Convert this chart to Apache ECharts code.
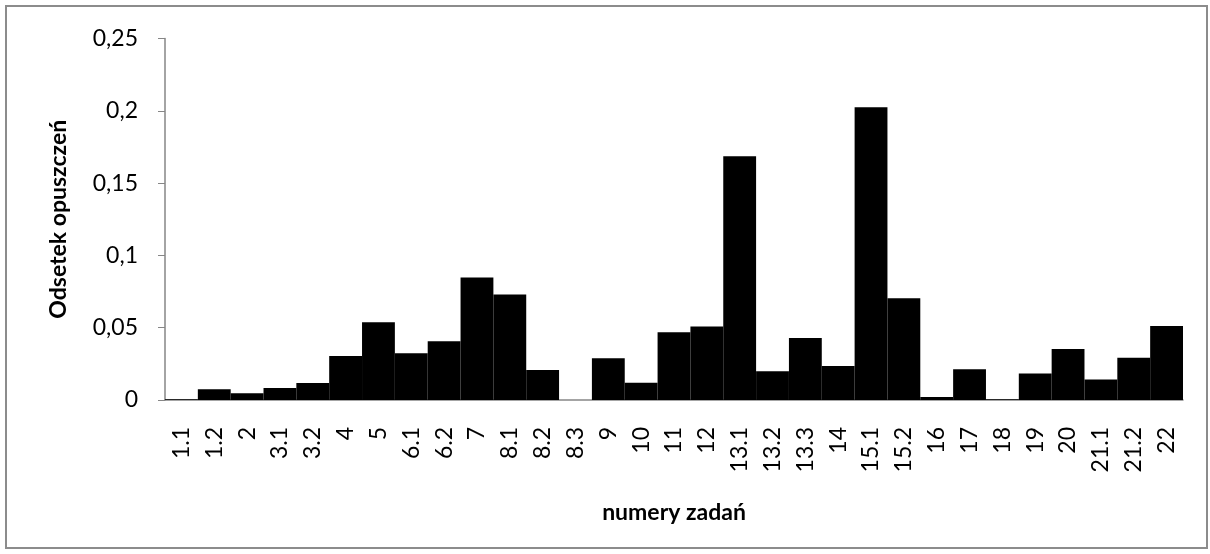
<!DOCTYPE html>
<html><head><meta charset="utf-8">
<script src="https://cdn.jsdelivr.net/npm/echarts@6/dist/echarts.min.js"></script>
<style>html,body{margin:0;padding:0;background:#fff}#c{width:1210px;height:554px}</style>
</head><body><div id="c"></div>
<script>
const categories = ['1.1','1.2','2','3.1','3.2','4','5','6.1','6.2','7','8.1','8.2','8.3','9','10','11','12','13.1','13.2','13.3','14','15.1','15.2','16','17','18','19','20','21.1','21.2','22'];
const values = [0.0005,0.0074,0.0046,0.0083,0.0118,0.0304,0.0537,0.0323,0.0406,0.0848,0.073,0.0207,0,0.0288,0.012,0.0468,0.0509,0.1685,0.0198,0.0429,0.0235,0.2024,0.0703,0.002,0.0212,0.0005,0.0184,0.0353,0.0141,0.0293,0.0512];
const yTitle = 'Odsetek opuszczeń';
const xTitle = 'numery zadań';
const FONT = 'Lato, "Open Sans", sans-serif';
const chart = echarts.init(document.getElementById('c'), null, {renderer:'canvas'});
chart.setOption({
  animation:false,
  backgroundColor:'#fff',
  graphic:[{type:'rect',shape:{x:6,y:6,width:1201,height:542},style:{fill:'none',stroke:'#8c8c8c',lineWidth:2},silent:true,z:-1}],
  grid:{left:165,right:27,top:38.5,bottom:154},
  xAxis:{type:'category',data:categories,
    axisLine:{lineStyle:{color:'#868686',width:1.5}},
    axisTick:{show:false},
    axisLabel:{interval:0,rotate:90,margin:27,color:'#000',fontSize:23,fontFamily:FONT},
    name:xTitle,nameLocation:'middle',nameGap:101,
    nameTextStyle:{color:'#000',fontSize:23,fontWeight:'bold',fontFamily:FONT}},
  yAxis:{type:'value',min:0,max:0.25,interval:0.05,
    axisLine:{show:true,lineStyle:{color:'#868686',width:1.5}},
    axisTick:{show:true,length:7,lineStyle:{color:'#868686'}},
    splitLine:{show:false},
    axisLabel:{margin:27,color:'#000',fontSize:23,fontFamily:FONT,
      formatter:v=>String(Math.round(v*100)/100).replace('.',',')},
    name:yTitle,nameLocation:'middle',nameGap:95,
    nameTextStyle:{color:'#000',fontSize:23,fontWeight:'bold',fontFamily:FONT}},
  series:[{type:'bar',data:values,barCategoryGap:'0%',itemStyle:{color:'#000'}}]
});
</script></body></html>
